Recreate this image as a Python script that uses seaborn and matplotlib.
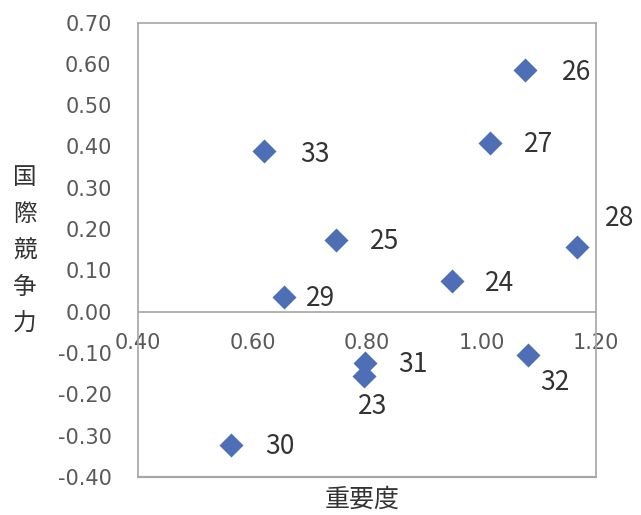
import matplotlib
matplotlib.use("Agg")
import matplotlib.pyplot as plt
import seaborn as sns
import pandas as pd

# Data
labels = ["23", "24", "25", "26", "27", "28", "29", "30", "31", "32", "33"]
importance = [0.795, 0.948, 0.746, 1.076, 1.015, 1.167, 0.655, 0.562, 0.797, 1.081, 0.620]
competitiveness = [-0.155, 0.075, 0.174, 0.585, 0.409, 0.157, 0.036, -0.322, -0.123, -0.104, 0.389]
x_ticks = [0.40, 0.60, 0.80, 1.00, 1.20]
y_ticks = [-0.40, -0.30, -0.20, -0.10, 0.00, 0.10, 0.20, 0.30, 0.40, 0.50, 0.60, 0.70]
x_title = "重要度"
y_title = "国際競争力"

# label offsets in pixels (dx, dy) relative to marker centre, y downward
label_offsets_px = {
    "23": (-6, 31, "left"), "24": (33, 3, "left"), "25": (34, 2, "left"),
    "26": (37, 2, "left"), "27": (34, 2, "left"), "28": (28, -28, "left"),
    "29": (22, 2, "left"), "30": (34, 2, "left"), "31": (33, 2, "left"),
    "32": (12, 28, "left"), "33": (36, 3, "left"),
}

df = pd.DataFrame({"x": importance, "y": competitiveness, "label": labels})

sns.set_style("white")
plt.rcParams["font.family"] = ["DejaVu Sans", "Noto Sans CJK JP"]

fig = plt.figure(figsize=(6.41, 5.15), dpi=100)
ax = fig.add_axes([0.2153, 0.0738, 0.7145, 0.8825])

sns.scatterplot(data=df, x="x", y="y", marker="D", s=150, color="#4e6fb5",
                edgecolor="#4e6fb5", linewidth=0, ax=ax, zorder=3)

ax.set_xlim(0.4, 1.2)
ax.set_ylim(-0.4, 0.7)
ax.set_xticks(x_ticks)
ax.set_yticks(y_ticks)
ax.set_xticklabels([f"{v:.2f}" for v in x_ticks])
ax.set_yticklabels([f"{v:.2f}" for v in y_ticks])

spine_col = "#a6a6a6"
for s in ax.spines.values():
    s.set_color(spine_col)
    s.set_linewidth(1.2)
    s.set_visible(True)
ax.spines["bottom"].set_position(("data", 0))
ax.axhline(-0.4, color=spine_col, linewidth=1.6, clip_on=False, zorder=1)

ax.tick_params(axis="both", colors=spine_col, labelcolor="#595959", labelsize=15,
               direction="out", length=7, width=1)
ax.tick_params(axis="x", pad=8)
ax.tick_params(axis="y", pad=12)

ax.set_xlabel("")
ax.set_ylabel("")

for lab, xv, yv in zip(labels, importance, competitiveness):
    dx, dy, ha = label_offsets_px[lab]
    ax.annotate(lab, (xv, yv), xytext=(dx * 0.72, -dy * 0.72), textcoords="offset points",
                ha=ha, va="center", fontsize=19, color="#333333",
                family=["Noto Sans CJK JP", "DejaVu Sans"])

fig.text(362 / 641, 1 - 500 / 515, x_title, ha="center", va="center", fontsize=18,
         color="#333333", family=["Noto Sans CJK JP"])
fig.text(25 / 641, 1 - 251 / 515, "\n".join(y_title), ha="center", va="center", fontsize=17,
         color="#333333", family=["Noto Sans CJK JP"], linespacing=1.75)

fig.savefig("out.png", dpi=100)
